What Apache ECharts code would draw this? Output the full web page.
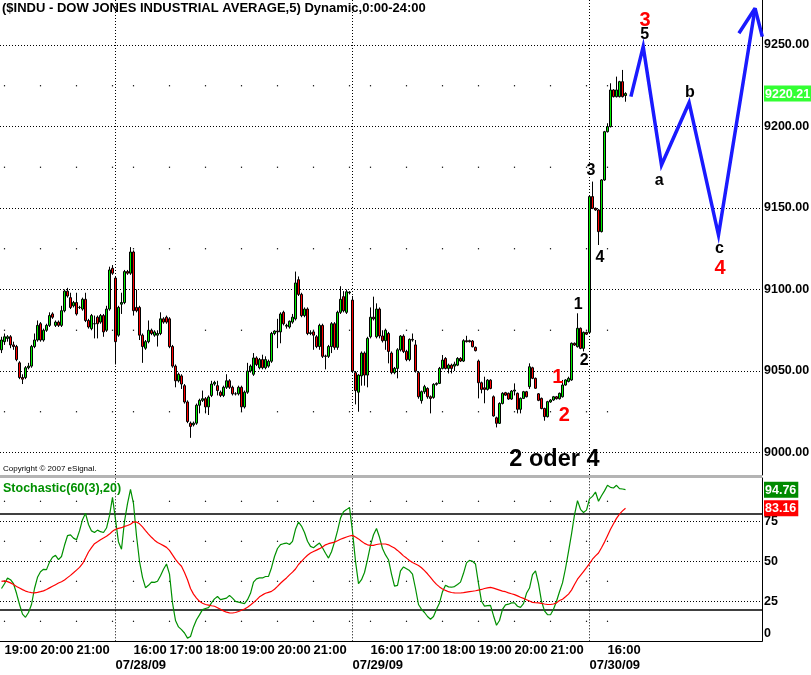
<!DOCTYPE html>
<html><head><meta charset="utf-8">
<script src="https://cdn.jsdelivr.net/npm/echarts@6/dist/echarts.min.js"></script>
<style>html,body{margin:0;padding:0;background:#fff}#c{width:811px;height:675px}</style>
</head><body><div id="c"></div>
<script>
// ---------- categories (5-minute bars, CET session times) ----------
const sessions = [
  ['07/27/09', '18:55', '22:00'],
  ['07/28/09', '15:30', '22:00'],
  ['07/29/09', '15:30', '22:00'],
  ['07/30/09', '15:30', '20:15']
];
const categories = [];
sessions.forEach(([d, s, e]) => {
  const toM = t => +t.slice(0, 2) * 60 + +t.slice(3);
  for (let m = toM(s); m <= toM(e); m += 5) {
    categories.push(d + ' ' + String(Math.floor(m / 60)).padStart(2, '0') + ':' + String(m % 60).padStart(2, '0'));
  }
});
const dayStarts = ['07/28/09 15:30', '07/29/09 15:30', '07/30/09 15:30'];
const timeTicks = [
  '07/27/09 19:00', '07/27/09 20:00', '07/27/09 21:00',
  '07/28/09 16:00', '07/28/09 17:00', '07/28/09 18:00', '07/28/09 19:00', '07/28/09 20:00', '07/28/09 21:00',
  '07/29/09 16:00', '07/29/09 17:00', '07/29/09 18:00', '07/29/09 19:00', '07/29/09 20:00', '07/29/09 21:00',
  '07/30/09 16:00'
];
const priceTicks = [9000, 9050, 9100, 9150, 9200, 9250];
const stochTicks = [0, 25, 50, 75];
const lastPrice = 9220.21;
const lastK = 94.76;
const lastD = 83.16;

// ---------- OHLC: [open, close, low, high] ----------
const candles = [
[9063,9069,9061,9071],[9068,9071,9066,9073],[9070,9071,9068,9072],[9071,9066,9064,9072],[9066,9065,9063,9068],
[9065,9057,9056,9066],[9055,9046,9045,9056],[9046,9045,9042,9048],[9046,9052,9045,9053],[9052,9053,9051,9055],
[9053,9065,9052,9066],[9065,9069,9064,9073],[9069,9078,9068,9081],[9079,9069,9068,9080],[9069,9075,9068,9076],
[9075,9078,9074,9079],[9078,9084,9077,9086],[9085,9083,9082,9086],[9078,9080,9077,9081],[9080,9078,9077,9081],
[9078,9087,9077,9090],[9087,9099,9086,9100],[9099,9096,9095,9101],[9095,9089,9088,9098],[9090,9092,9089,9093],
[9092,9085,9084,9098],[9089,9089,9088,9090],[9088,9094,9087,9095],[9094,9081,9080,9098],[9081,9077,9076,9082],
[9076,9084,9075,9085],[9079,9079,9070,9084],[9083,9079,9070,9084],[9080,9084,9079,9085],[9084,9074,9071,9085],
[9075,9088,9074,9090],[9088,9112,9087,9114],[9113,9110,9109,9115],[9107,9068,9054,9108],[9072,9089,9071,9090],
[9091,9092,9085,9098],[9092,9111,9091,9112],[9111,9110,9109,9112],[9110,9123,9109,9126],[9123,9087,9084,9124],
[9089,9087,9086,9100],[9089,9072,9069,9090],[9072,9065,9055,9073],[9064,9068,9063,9069],[9068,9075,9067,9081],
[9075,9073,9072,9076],[9072,9074,9071,9075],[9072,9073,9065,9075],[9073,9082,9072,9086],[9082,9080,9079,9083],
[9083,9080,9079,9084],[9082,9065,9064,9083],[9065,9053,9052,9066],[9053,9044,9040,9054],[9044,9048,9043,9049],
[9047,9042,9039,9048],[9041,9031,9030,9042],[9031,9019,9018,9032],[9018,9016,9009,9019],[9017,9018,9016,9019],
[9018,9029,9017,9030],[9029,9032,9024,9033],[9032,9033,9031,9038],[9033,9028,9024,9034],[9028,9034,9023,9035],
[9035,9042,9034,9044],[9042,9043,9041,9044],[9041,9038,9035,9044],[9037,9035,9034,9038],[9035,9040,9034,9041],
[9040,9044,9039,9048],[9044,9040,9039,9045],[9040,9036,9035,9041],[9036,9036,9035,9037],[9036,9040,9035,9041],
[9040,9028,9025,9041],[9028,9037,9027,9038],[9037,9050,9036,9055],[9050,9053,9049,9054],[9048,9058,9047,9061],
[9058,9054,9053,9059],[9052,9057,9051,9058],[9057,9052,9051,9060],[9052,9057,9051,9059],[9053,9056,9052,9057],
[9056,9073,9055,9074],[9073,9074.5,9072,9075],[9074.5,9074,9064,9082],[9074,9085,9067,9086],[9086,9079,9078,9087],
[9077.5,9078,9076,9079],[9077,9080.5,9076,9081],[9080,9083,9079,9085],[9082,9104,9081,9111],[9106,9097,9096,9108],
[9097,9084,9083,9098],[9084,9088,9083,9089],[9088,9073,9072,9089],[9073,9073.5,9072,9075],[9074,9072,9063,9075],
[9071,9065,9064,9072],[9065,9078,9063,9079],[9078,9059,9058,9079],[9059,9059.2,9051,9060],[9059,9065,9058,9066],
[9065,9079,9061,9080],[9079,9064.5,9063,9080],[9064.5,9086,9063,9087],[9086,9094,9085,9102],[9095.6,9087,9086,9099],
[9086,9098.6,9085,9100],[9098,9098.4,9097,9099],[9093.5,9050,9049,9096],[9049,9038,9029.5,9050],[9037,9047.5,9025,9048],
[9047,9061,9041,9062],[9061,9047.5,9041,9062],[9047.5,9070,9040,9071],[9071,9083,9070,9089],[9083,9082,9081,9095.6],
[9071,9088,9070,9091.5],[9088,9071.5,9070,9089],[9071.5,9068.6,9067.5,9075],[9068.6,9075,9063,9076],[9073,9062,9054.7,9074],
[9061,9049,9048,9062],[9049,9051.6,9048,9052.5],[9051.6,9063,9045.5,9064],[9063,9071.4,9062,9072],[9071.4,9062,9061,9072.5],
[9062,9057,9056,9063],[9057,9069.4,9056,9070],[9069.4,9069,9068,9073],[9066,9050,9049,9069],[9049,9034.2,9033,9050],
[9031.8,9037.3,9030,9038],[9037.3,9040.4,9036,9041.5],[9039.3,9034.2,9033,9040],[9034.2,9033.2,9024,9035],[9033.8,9041.8,9033,9042.5],
[9041.8,9042.4,9041,9043],[9042.4,9051.6,9042,9052.5],[9051.6,9056.7,9051,9059.8],[9057.7,9051.6,9051,9058.5],[9051.6,9053.6,9048.5,9054.5],
[9053.6,9051.6,9048.5,9054.5],[9053,9054.2,9050,9055.7],[9053.6,9057.7,9053,9058.5],[9057.7,9056.1,9055.5,9058.5],[9056.1,9068.6,9055.5,9069.5],
[9068.6,9068,9067.5,9071.6],[9068.6,9068,9067.5,9069.2],[9068.4,9064.9,9064.5,9069],[9064.5,9062.5,9062,9065],[9056.1,9042.8,9033.2,9057],
[9042.8,9038.7,9036.3,9043.5],[9039.7,9038.7,9030.2,9046.5],[9038.7,9044.4,9038,9045],[9044.4,9039.3,9038.8,9045],[9034.2,9022.4,9022,9035],
[9021.3,9017.9,9015.4,9022],[9017.9,9030.1,9017.5,9030.8],[9030.1,9036.3,9029.5,9037],[9036.7,9035.2,9034.8,9037.2],[9036.3,9032.8,9032.3,9036.8],
[9032.8,9037.7,9032.3,9038.3],[9037.7,9038.3,9035,9042.4],[9036.3,9026.5,9024,9036.8],[9026.5,9033.2,9024,9033.8],[9033.2,9037.3,9032.8,9037.8],
[9037.3,9034.2,9033.8,9037.8],[9040.4,9052.6,9039,9054.7],[9052,9045.5,9045,9052.6],[9045.5,9039.4,9039,9046],[9036,9032,9031.5,9036.5],
[9033.2,9027,9026.5,9033.7],[9027,9022,9019.5,9027.5],[9022,9031.2,9021.5,9031.7],[9031,9032.2,9030.5,9032.7],[9032.2,9034.2,9031.7,9034.7],
[9034.2,9033,9032.5,9034.7],[9033,9036.3,9032.5,9036.8],[9034.2,9041.4,9033.7,9044.5],[9041.4,9044.5,9041,9045],[9043.6,9045.5,9043,9046.5],
[9044.5,9067,9044,9067.5],[9067,9065.9,9065.4,9067.5],[9064.9,9076.2,9064.4,9085.4],[9076.2,9063.9,9063.4,9076.7],[9063.9,9073.7,9062,9074.2],
[9073.7,9072.6,9072.1,9074.2],[9073.7,9157,9073.2,9157.5],[9157,9149.8,9149.3,9166.2],[9149.8,9148.8,9148.3,9150.3],[9148.8,9135.5,9127.3,9149.3],
[9135.5,9167.2,9135,9167.7],[9167.2,9196.8,9166.7,9197.3],[9196.8,9199.9,9196.3,9202],[9199.9,9222.4,9199.4,9226.5],[9222.4,9218.3,9217.8,9222.9],
[9218.3,9222.4,9217.8,9230.6],[9218.3,9227.5,9217.8,9228],[9227.5,9218.3,9217.8,9234.7],[9219,9220.21,9215.2,9221]
];

// ---------- Stochastic(60(3),20): %K (green) and %D (red) ----------
const stochK = [
33,36,39.5,38.5,36,30,23,17,15,18,
23,33,40,43.5,45,44.8,49.5,52.5,53.7,51,
53,60,66,66.5,64.5,63.5,69,76,80,73,
69,68,69.5,68.5,68,70.8,78.5,90,76,62,
57.5,75,86,95,86,66,50,40,33.5,35,
37,36.8,37.5,41,45,48.3,42,24,13,9,
7.3,5.2,2,3,9,13.5,16.5,19.8,20.5,21,
24,26.5,28,26,26.5,27,28.7,27,25,24.5,
24,23.5,26,30,37,39,39.6,39.6,40.5,40.6,
46,53,58,60.4,61,61.4,60.5,62.5,70,74.5,
72,68,62.5,59.3,58.5,60,61.4,58.5,55,52,
56,62,69,77,81,82.3,83.7,68.7,50,36,
38.5,43,51,60,66.6,70.5,65,58,54,51,
42,34.5,35,44,46.5,45.4,44.2,42,33,23,
20,18,15.5,13.8,15.5,20,24,31,35,34,
33.8,34.2,35.5,37,42.5,49,50.6,50,48.3,36,
25,22,22.3,22.5,16,10,13,20,22.8,23.2,
24,24,21.9,21.2,23.5,30,33.3,41.6,44,36,
25,19,16.6,16.6,20,25,31,36.5,45.5,56,
67,79,87.9,82.5,80.5,82,89,90.6,93.3,87.5,
91,94,97.5,96.2,95.8,97.5,95.4,95.2,94.76
];
const stochD = [
37.5,37.8,37.3,36.5,35.5,34.3,33.3,32.3,31.4,30.8,
30.4,30.3,30.6,31,31.5,32.4,33.4,34.4,35.4,36.4,
37.2,38.3,39.8,41.2,42.8,44.5,46.2,48.5,52,55.8,
58.5,61,62.2,63.5,64.6,65.6,67,68.8,70,70.6,
71,71.8,72.4,73.2,74.6,74.5,73.4,71.5,69.2,67,
65,63.2,61.8,60.8,59.8,58.7,56.8,54,51.2,48.9,
46.9,43,38.5,33,29.5,27,25,23.8,23,22.6,
22.2,21.9,21,20,19,18.2,17.8,17.7,18,18.6,
19.4,20.2,21.3,22.7,24.2,25.9,27.8,29,30,30.6,
31.2,32.5,34.3,36.3,38,39.6,41.5,43.2,45.2,48,
50,52,53.8,55.2,56.1,57,57.9,59,60.3,61,
61.5,62,62.8,63.8,64.5,65.2,65.8,66.2,65.2,64,
62.5,61.2,60.3,59.9,60,60.5,60.8,60.8,60.8,60.3,
59.3,58.3,56.8,55.2,53.4,52,50.5,49.2,48.3,47.4,
46,44.2,42.2,40,37.6,35.6,34,32.7,31.8,31,
30.5,30.3,30.2,30.2,30.4,30.7,31,31.3,31.6,32,
32.4,33,33.4,33.7,33.2,32.6,32,31.4,31,30.3,
29.7,29.2,28.4,27.5,26.8,26,25.2,24.3,24.1,24,
23.7,23.3,23,23,23.3,24,25.5,26.3,27.8,29.5,
32,35.5,38.8,41.2,43.6,46,48.5,51.3,53.4,55.2,
58.5,62,66,70,73.5,76.8,79.5,81.5,83.16
];

// ---------- hand-drawn Elliott projection [bar index, price] ----------
const projection = [[209.8, 9218.3], [213.9, 9249.0], [220.0, 9176.4], [229.2, 9214.6], [239.0, 9133.4], [251.2, 9272.5]];
const projectionArrow = [[245.8, 9257.2], [251.2, 9272.5], [253.6, 9255.1]];
// wave labels [bar index, price, text]
const waveMinor = [[214.4, 9256.1, '5'], [219.2, 9166.6, 'a'], [229.5, 9220.7, 'b'], [239.3, 9124.8, 'c'],
  [196.5, 9172.7, '3'], [199.5, 9119.5, '4'], [192.2, 9090.5, '1'], [194.2, 9056.1, '2']];
const waveMajor = [[214.5, 9265.3, '3'], [239.5, 9112.6, '4'], [185.4, 9045.9, '1'], [187.6, 9022.6, '2']];
const caption = [[184.3, 8996, '2 oder 4']];

// ---------- derived helpers ----------
const N = categories.length;
const lastIdx = candles.length - 1;
const timeSet = new Set(timeTicks);
const daySet = new Set(dayStarts);
const hourIdx = [];
categories.forEach((c, i) => { if (c.endsWith(':00') && i <= lastIdx) hourIdx.push(i); });
const mainDots = [];
[9025, 9075, 9125, 9175, 9225].forEach(v => hourIdx.forEach(i => mainDots.push([i, v])));
const stochDots = [];
[12.5, 37.5, 62.5, 87.5].forEach(v => hourIdx.forEach(i => stochDots.push([i, v])));

const FONT = 'Liberation Sans, Arial, sans-serif';
const dotted = { color: '#000', width: 1, type: [1, 2] };
const Y0MIN = 8986.2, Y0MAX = 9277.6;
const waveLabel = (color, size) => ({
  show: true, position: 'inside', formatter: p => p.data[2], color: color, fontWeight: 'bold', opacity: 1,
  fontSize: size, fontFamily: FONT, textBorderWidth: 0, textBorderColor: 'transparent', textShadowBlur: 0
});

const chart = echarts.init(document.getElementById('c'), null, { renderer: 'canvas' });
chart.setOption({
  animation: false,
  backgroundColor: '#fff',
  textStyle: { fontFamily: FONT },
  grid: [
    { left: 0, right: 49, top: 0, height: 475, outerBoundsMode: 'none', containLabel: false },
    { left: 0, right: 49, top: 478, height: 163.3, outerBoundsMode: 'none', containLabel: false }
  ],
  xAxis: [
    { type: 'category', gridIndex: 0, data: categories, show: false },
    { type: 'value', gridIndex: 0, min: -0.5, max: N - 0.5, show: false },
    { type: 'category', gridIndex: 1, data: categories, position: 'bottom',
      axisLine: { show: true, onZero: false, lineStyle: { color: '#000', width: 1 } },
      axisTick: { show: false }, splitLine: { show: false },
      axisLabel: { interval: (i, v) => timeSet.has(v), formatter: v => v.slice(-5), align: 'left',
        color: '#000', fontWeight: 'bold', fontSize: 13, fontFamily: FONT, margin: 3 } },
    { type: 'category', gridIndex: 1, data: categories, position: 'bottom', offset: 15,
      axisLine: { show: false, onZero: false }, axisTick: { show: false }, splitLine: { show: false },
      axisLabel: { interval: (i, v) => daySet.has(v), formatter: v => v.slice(0, 8), align: 'left',
        color: '#000', fontWeight: 'bold', fontSize: 13, fontFamily: FONT, margin: 3 } },
    { type: 'value', gridIndex: 1, min: -0.5, max: N - 0.5, show: false }
  ],
  yAxis: [
    { type: 'value', gridIndex: 0, position: 'right', min: Y0MIN, max: Y0MAX,
      axisLine: { show: true, onZero: false, lineStyle: { color: '#000', width: 1 } },
      axisTick: { show: false }, splitLine: { show: false },
      axisLabel: { customValues: priceTicks.concat([lastPrice]), margin: 2,
        formatter: v => v === lastPrice ? '{cur|' + v.toFixed(2) + '}' : v.toFixed(2),
        color: '#000', fontWeight: 'bold', fontSize: 12.5, fontFamily: FONT,
        rich: { cur: { backgroundColor: '#33ff33', color: '#fff', fontWeight: 'bold', fontSize: 12.5, fontFamily: FONT, padding: [2, 3, 1, 1] } } } },
    { type: 'value', gridIndex: 1, position: 'right', min: 0, max: 102.06,
      axisLine: { show: true, onZero: false, lineStyle: { color: '#000', width: 1 } },
      axisTick: { show: false }, splitLine: { show: false },
      axisLabel: { customValues: stochTicks.concat([lastK, lastD]), margin: 2,
        formatter: v => v === lastK ? '{k|' + v.toFixed(2) + '}' : v === lastD ? '{d|' + v.toFixed(2) + '}' : v === 0 ? '{z|0}' : String(v),
        color: '#000', fontWeight: 'bold', fontSize: 12.5, fontFamily: FONT,
        rich: {
          k: { backgroundColor: '#008a00', color: '#fff', fontWeight: 'bold', fontSize: 12.5, fontFamily: FONT, padding: [2, 2, 1, 1] },
          d: { backgroundColor: '#ff0000', color: '#fff', fontWeight: 'bold', fontSize: 12.5, fontFamily: FONT, padding: [2, 2, 1, 1] },
          z: { color: '#000', fontWeight: 'bold', fontSize: 12.5, fontFamily: FONT, padding: [0, 0, 16, 0] }
        } } }
  ],
  series: [
    { type: 'scatter', xAxisIndex: 1, yAxisIndex: 0, data: mainDots, symbol: 'rect', symbolSize: 1.2,
      itemStyle: { color: '#000', opacity: 1 }, silent: true, z: 1 },
    { type: 'candlestick', xAxisIndex: 0, yAxisIndex: 0, data: candles, barWidth: 2,
      itemStyle: { color: '#00f000', color0: '#ff0000', borderColor: '#000', borderColor0: '#000', borderColorDoji: '#000', borderWidth: 1 },
      markLine: { symbol: 'none', silent: true, label: { show: false }, lineStyle: dotted, z: 1,
        data: priceTicks.map(v => ({ yAxis: v })).concat(dayStarts.map(c => ({ xAxis: c }))) } },
    { type: 'line', xAxisIndex: 1, yAxisIndex: 0, data: projection, symbol: 'none',
      lineStyle: { color: '#1a1aff', width: 3.5, join: 'miter' }, z: 5 },
    { type: 'line', xAxisIndex: 1, yAxisIndex: 0, data: projectionArrow, symbol: 'none',
      lineStyle: { color: '#1a1aff', width: 3.5 }, z: 5 },
    { type: 'scatter', xAxisIndex: 1, yAxisIndex: 0, data: waveMinor, symbolSize: 0, z: 6,
      itemStyle: { color: '#000', opacity: 1 }, label: waveLabel('#000', 16) },
    { type: 'scatter', xAxisIndex: 1, yAxisIndex: 0, data: waveMajor, symbolSize: 0, z: 6,
      itemStyle: { color: '#ff0000', opacity: 1 }, label: waveLabel('#ff0000', 20) },
    { type: 'scatter', xAxisIndex: 1, yAxisIndex: 0, data: caption, symbolSize: 0, z: 6,
      itemStyle: { color: '#000', opacity: 1 }, label: waveLabel('#000', 23.5) },
    { type: 'scatter', xAxisIndex: 4, yAxisIndex: 1, data: stochDots, symbol: 'rect', symbolSize: 1.2,
      itemStyle: { color: '#000', opacity: 1 }, silent: true, z: 1 },
    { type: 'line', xAxisIndex: 2, yAxisIndex: 1, data: stochK, symbol: 'none',
      lineStyle: { color: '#009000', width: 1.2 },
      markLine: { symbol: 'none', silent: true, label: { show: false }, z: 1,
        data: [
          { yAxis: 20, lineStyle: { color: '#000', width: 1.5, type: 'solid' } },
          { yAxis: 80, lineStyle: { color: '#000', width: 1.5, type: 'solid' } },
          { yAxis: 25, lineStyle: dotted }, { yAxis: 50, lineStyle: dotted }, { yAxis: 75, lineStyle: dotted }
        ].concat(dayStarts.map(c => ({ xAxis: c, lineStyle: dotted }))) } },
    { type: 'line', xAxisIndex: 2, yAxisIndex: 1, data: stochD, symbol: 'none',
      lineStyle: { color: '#ff0000', width: 1.2 } }
  ],
  graphic: [
    { type: 'rect', left: 0, top: 475, shape: { width: 762, height: 3 }, style: { fill: '#b4b4b4' }, z: 10 },
    { type: 'text', left: 2, top: 2, z: 10,
      style: { text: '($INDU - DOW JONES INDUSTRIAL AVERAGE,5) Dynamic,0:00-24:00', fill: '#000', font: 'bold 13px ' + FONT } },
    { type: 'text', left: 3, top: 465, z: 10,
      style: { text: 'Copyright \u00a9 2007 eSignal.', fill: '#000', font: '8px ' + FONT } },
    { type: 'text', left: 3, top: 482, z: 10,
      style: { text: 'Stochastic(60(3),20)', fill: '#009000', font: 'bold 12.5px ' + FONT } }
  ]
});
</script>
</body></html>
